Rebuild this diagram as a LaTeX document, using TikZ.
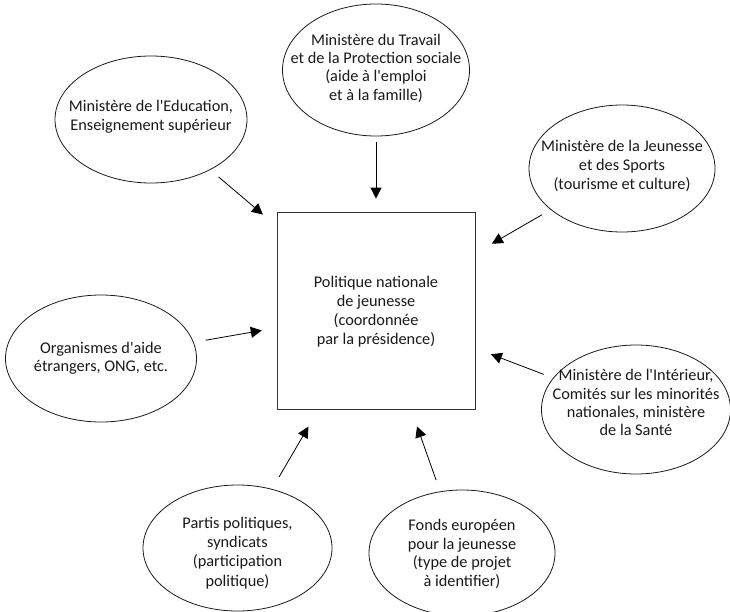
\documentclass[tikz,border=0pt]{standalone}
\usepackage{fontspec}
\setmainfont{Carlito}
\usetikzlibrary{shapes.geometric,arrows.meta}
\newcommand{\ctxt}[2][0pt]{\raisebox{\dimexpr-3pt-#1\relax}{\smash{\makebox[0pt]{\begin{tabular}{@{}c@{}}#2\end{tabular}}}}}
\newcommand{\aq}{\textquotesingle}
\begin{document}
\begin{tikzpicture}[x=1pt,y=-1pt,
  every node/.style={text=black!90, font=\fontsize{16.3}{18.3}\selectfont},
  oval/.style={draw=black!90, line width=0.8pt, ellipse, inner sep=0pt, minimum width=189pt, minimum height=127pt},
  centrebox/.style={draw=black!80, line width=0.8pt, rectangle, inner sep=0pt, minimum width=198pt, minimum height=197pt},
  link/.style={draw=black, line width=0.8pt, -{Triangle[length=11pt,width=11pt]}}]
\useasboundingbox (0,0) rectangle (730,611);
\node[centrebox, font=\fontsize{16.3}{19}\selectfont] (pol) at (376,310.5) {\ctxt[9pt]{Politique nationale\\de jeunesse\\(coordonnée\\par la présidence)}};
\node[oval, minimum width=187pt, minimum height=132pt] (trav) at (376,70) {\ctxt[4pt]{Ministère du Travail\\et de la Protection sociale\\(aide à l\aq emploi\\et à la famille)}};
\node[oval, minimum width=192pt, font=\fontsize{16.3}{19.5}\selectfont] (edu) at (151,119.5) {\ctxt[1pt]{Ministère de l\aq Education,\\Enseignement supérieur}};
\node[oval, minimum width=186pt, font=\fontsize{16.3}{19}\selectfont] (jeu) at (622,168.5) {\ctxt[2.5pt]{Ministère de la Jeunesse\\et des Sports\\(tourisme et culture)}};
\node[oval, minimum width=191pt] (org) at (101,358.5) {\ctxt[6pt]{Organismes d\aq aide\\étrangers, ONG, etc.}};
\node[oval, minimum height=129pt] (int) at (636,409.5) {\ctxt[-4pt]{Ministère de l\aq Intérieur,\\Comités sur les minorités\\nationales, ministère\\de la Santé}};
\node[oval, minimum height=126pt, font=\fontsize{16.3}{19.3}\selectfont] (par) at (237.5,548) {\ctxt[16pt]{Partis politiques,\\syndicats\\(participation\\politique)}};
\node[oval, minimum width=186pt, minimum height=126pt, font=\fontsize{16.3}{18.5}\selectfont] (fon) at (462,553) {\ctxt[9pt]{Fonds européen\\pour la jeunesse\\(type de projet\\à identifier)}};
\draw[link, shorten <=6pt, shorten >=13pt] (trav) -- (pol);
\draw[link, shorten <=11pt, shorten >=18pt] (edu) -- (pol);
\draw[link, shorten <=10pt, shorten >=19pt] (jeu) -- (pol);
\draw[link, shorten <=12pt, shorten >=15pt] (org) -- (pol);
\draw[link, shorten <=10pt, shorten >=16.5pt] (int) -- (pol);
\draw[link, shorten <=14pt, shorten >=20pt] (par) -- (pol);
\draw[link, shorten <=12pt, shorten >=18pt] (fon) -- (pol);
\end{tikzpicture}
\end{document}
